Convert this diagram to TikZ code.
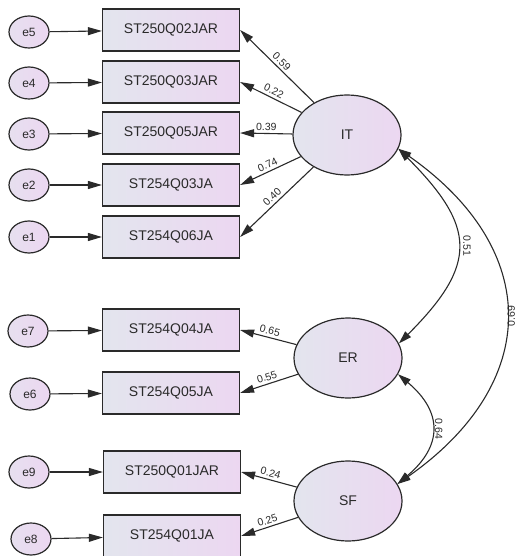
\documentclass[tikz,border=0pt]{standalone}
\usepackage{fontspec}
\setmainfont{Liberation Sans}
\usetikzlibrary{shapes.geometric, arrows.meta}

\definecolor{fillL}{HTML}{E3E5EE}
\definecolor{fillR}{HTML}{ECD7F1}
\definecolor{ink}{HTML}{2A2A2A}

\tikzset{
    obs/.style={rectangle, draw=ink, line width=1.2pt, left color=fillL, right color=fillR,
        minimum width=137pt, minimum height=42pt, text=ink, font=\fontsize{14}{16}\selectfont},
    lat/.style={ellipse, draw=ink, line width=1.2pt, left color=fillL, right color=fillR,
        minimum width=108pt, minimum height=80pt, text=ink, font=\fontsize{14}{16}\selectfont},
    err/.style={ellipse, draw=ink, line width=1.2pt, left color=fillL!60!fillR, right color=fillR,
        minimum width=40pt, minimum height=32pt, inner sep=0pt, text=ink, font=\fontsize{12}{14}\selectfont},
    load/.style={draw=ink, line width=1.1pt, -{Triangle[length=14pt, width=8pt]}},
    cov/.style={draw=ink, line width=1.1pt, {Triangle[length=13pt, width=8pt]}-{Triangle[length=13pt, width=8pt]}},
    est/.style={sloped, above, inner sep=2.5pt, text=ink, font=\fontsize{10.5}{12}\selectfont},
    corr/.style={inner sep=2pt, text=ink, font=\fontsize{10.5}{12}\selectfont},
}

\begin{document}
\begin{tikzpicture}[x=1pt, y=1pt]
    \useasboundingbox (0,0) rectangle (517,-556);
    \node[obs](st250q02) at (171,-30)  {ST250Q02JAR};
    \node[obs](st250q03) at (171,-82)  {ST250Q03JAR};
    \node[obs](st250q05) at (171,-133) {ST250Q05JAR};
    \node[obs](st254q03) at (171,-185) {ST254Q03JA};
    \node[obs](st254q06) at (171,-237) {ST254Q06JA};
    \node[obs](st254q04) at (171,-330) {ST254Q04JA};
    \node[obs](st254q05) at (171,-393) {ST254Q05JA};
    \node[obs](st250q01) at (172,-472) {ST250Q01JAR};
    \node[obs](st254q01) at (172,-536) {ST254Q01JA};

    \node[err](e5) at (29,-32)  {e5};
    \node[err](e4) at (29,-83)  {e4};
    \node[err](e3) at (29,-134) {e3};
    \node[err](e2) at (29,-185) {e2};
    \node[err](e1) at (29,-237) {e1};
    \node[err](e7) at (28,-331) {e7};
    \node[err](e6) at (30,-394) {e6};
    \node[err](e9) at (29,-472) {e9};
    \node[err](e8) at (31,-539) {e8};

    \node[lat](IT) at (347,-135) {IT};
    \node[lat](ER) at (348,-358) {ER};
    \node[lat](SF) at (348,-501) {SF};

    \path
        (e5) edge [load] (st250q02)
        (e4) edge [load] (st250q03)
        (e3) edge [load] (st250q05)
        (e2) edge [load] (st254q03)
        (e1) edge [load] (st254q06)
        (e7) edge [load] (st254q04)
        (e6) edge [load] (st254q05)
        (e9) edge [load] (st250q01)
        (e8) edge [load] (st254q01)
        ;
    \path
        (IT)
            edge [load] node [est] {0.59} (st250q02.east)
            edge [load] node [est] {0.22} (st250q03.east)
            edge [load] node [est] {0.39} (st250q05.east)
            edge [load] node [est] {0.74} (st254q03.east)
            edge [load] node [est] {0.40} (st254q06.east)
        (ER)
            edge [load] node [est] {0.65} (st254q04.east)
            edge [load] node [est] {0.55} (st254q05.east)
        (SF)
            edge [load] node [est] {0.24} (st250q01.east)
            edge [load] node [est] {0.25} (st254q01.east)
        ;
    \path
        (IT.-15)
            edge [cov, out=-45, in=45, looseness=1.46]
                node [corr, rotate=-90, anchor=south, inner sep=5pt] {0.51} (ER.16)
            edge [cov, out=-35, in=35, looseness=1.34]
                node [corr, rotate=90, anchor=north, inner sep=1pt] {0.69} (SF.19)
        (ER.-18)
            edge [cov, out=-40, in=40, looseness=1.37]
                node [corr, rotate=-90, anchor=south, inner sep=3pt] {0.64} (SF.19)
        ;
\end{tikzpicture}
\end{document}
